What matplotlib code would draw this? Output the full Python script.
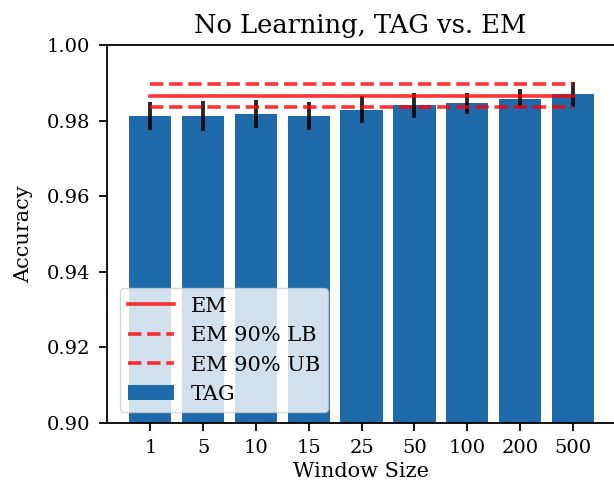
import numpy as np
import matplotlib.pyplot as plt

# Window sizes and TAG accuracy (mean, error half-width)
window_sizes = ['1', '5', '10', '15', '25', '50', '100', '200', '500']
tag_acc = [0.9812, 0.9812, 0.9818, 0.9812, 0.9829, 0.9840, 0.9846, 0.9858, 0.9869]
tag_err = [0.0036, 0.0039, 0.0037, 0.0037, 0.0035, 0.0034, 0.0028, 0.0025, 0.0032]

# EM accuracy with 90% bounds
em_acc = 0.98647
em_lb = 0.98347
em_ub = 0.98980

plt.rcParams['font.family'] = 'DejaVu Serif'
plt.rcParams['axes.linewidth'] = 1.3

fig = plt.figure(figsize=(6.14, 4.82), dpi=100)
ax = fig.add_axes([0.1743, 0.123, 0.8257, 0.7836])

x = np.arange(len(window_sizes))
ax.bar(x, tag_acc, yerr=tag_err, color='#1f6aab', ecolor='black',
       error_kw=dict(lw=2.8, alpha=0.85), label='TAG', zorder=1)

ax.plot([x[0], x[-1]], [em_acc, em_acc], color='red', alpha=0.8, lw=2.6, label='EM', zorder=2)
ax.plot([x[0], x[-1]], [em_lb, em_lb], color='red', alpha=0.8, lw=2.6, ls='--', label='EM 90% LB', zorder=2)
ax.plot([x[0], x[-1]], [em_ub, em_ub], color='red', alpha=0.8, lw=2.6, ls='--', label='EM 90% UB', zorder=2)

# the plot runs off the right edge, so no right spine is shown
ax.spines['right'].set_visible(False)

ax.set_ylim(0.90, 1.00)
ax.set_xlim(-0.82, 8.78)
ax.set_xticks(x)
ax.set_xticklabels(window_sizes)
ax.set_yticks([0.90, 0.92, 0.94, 0.96, 0.98, 1.00])
ax.tick_params(labelsize=14, length=6, width=1.3, pad=6)

ax.set_title('No Learning, TAG vs. EM', fontsize=18.5, pad=9)
ax.set_xlabel('Window Size', fontsize=15, labelpad=3)
ax.set_ylabel('Accuracy', fontsize=15, labelpad=10)
ax.legend(loc='lower left', fontsize=15, handlelength=2.2, labelspacing=0.5,
          bbox_to_anchor=(0.005, 0.0))

fig.savefig('out.png', dpi=100)
